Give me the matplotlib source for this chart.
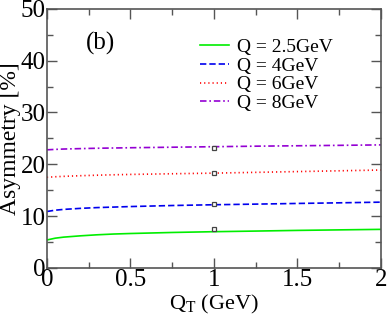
import numpy as np
import matplotlib
matplotlib.use("Agg")
import matplotlib.pyplot as plt
from matplotlib.ticker import MultipleLocator

plt.rcParams['font.family'] = ['Liberation Serif', 'DejaVu Serif']
plt.rcParams['mathtext.fontset'] = 'custom'
plt.rcParams['mathtext.rm'] = 'Liberation Serif'

# Q_T values (GeV)
qt = [0, 0.05, 0.1, 0.2, 0.3, 0.4, 0.5, 0.75, 1.0, 1.25, 1.5, 1.75, 2.0]

# asymmetry curves [%]
asym_q25 = [5.4, 5.75, 5.95, 6.2, 6.4, 6.55, 6.65, 6.85, 7.0, 7.12, 7.25, 7.35, 7.45]
asym_q4 = [10.9, 11.15, 11.3, 11.5, 11.65, 11.75, 11.85, 12.05, 12.2, 12.32, 12.45, 12.57, 12.7]
asym_q6 = [17.5, 17.6, 17.68, 17.8, 17.9, 17.98, 18.05, 18.18, 18.3, 18.45, 18.6, 18.75, 18.9]
asym_q8 = [22.8, 22.88, 22.95, 23.03, 23.1, 23.15, 23.2, 23.3, 23.4, 23.5, 23.58, 23.66, 23.75]

# points at Q_T = 1 GeV
pt_x = [1, 1, 1, 1]
pt_y = [7.5, 12.4, 18.4, 23.2]

labels = ['Q = 2.5GeV', 'Q = 4GeV', 'Q = 6GeV', 'Q = 8GeV']

fig = plt.figure(figsize=(3.88, 3.16), dpi=100)
ax = fig.add_axes([0.121, 0.152, 0.861, 0.82])

lw = 1.2
ax.plot(qt, asym_q25, color='#00ee00', lw=lw, ls='-', label=labels[0])
ax.plot(qt, asym_q4, color='#0000ee', lw=lw, ls=(0, (3.8, 1.8)), label=labels[1])
ax.plot(qt, asym_q6, color='#ff0000', lw=lw, ls=(0, (0.7, 1.8)), label=labels[2])
ax.plot(qt, asym_q8, color='#9400d3', lw=lw, ls=(0, (3.9, 1.7, 1, 1.7)), label=labels[3])
ax.plot(pt_x, pt_y, ls='none', marker='s', ms=3.2, mfc='white', mec='#444444', mew=0.9)

ax.set_xlim(0, 2)
ax.set_ylim(0, 50)
ax.xaxis.set_minor_locator(MultipleLocator(0.25))
ax.yaxis.set_major_locator(MultipleLocator(10))
ax.yaxis.set_minor_locator(MultipleLocator(5))
ax.set_xticks([0, 0.5, 1, 1.5, 2])
ax.set_xticklabels(['0', '0.5', '1', '1.5', '2'])
ax.tick_params(which='both', direction='in', top=True, right=True, color='#555555',
               labelsize=18, width=1.0)
ax.tick_params(which='major', length=7, pad=1)
ax.tick_params(which='minor', length=4)
for s in ax.spines.values():
    s.set_color('#555555')
    s.set_linewidth(1.2)

ax.set_xlabel(r'Q$_{\mathrm{T}}$ (GeV)', fontsize=16, labelpad=1)
ax.set_ylabel('Asymmetry [%]', fontsize=17, labelpad=0)
ax.text(0.32, 43.3, '(b)', fontsize=18, ha='center', va='center')

ax.legend(loc='upper left', bbox_to_anchor=(0.435, 0.915), frameon=False, fontsize=14,
          handlelength=1.5, handletextpad=0.4, labelspacing=0.05, borderaxespad=0)

fig.savefig('out.png', dpi=100)
